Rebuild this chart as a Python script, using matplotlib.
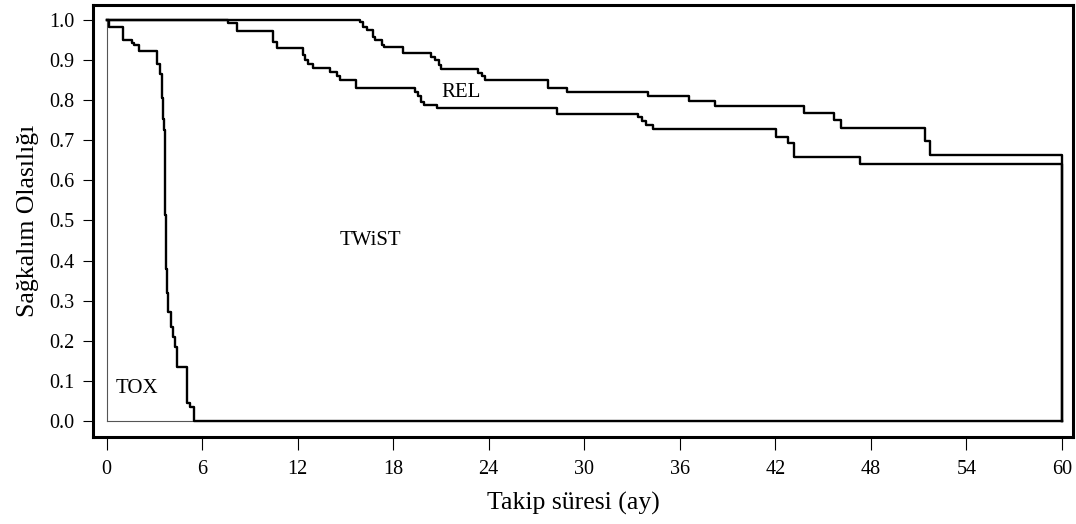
import matplotlib
matplotlib.use("Agg")
import matplotlib.pyplot as plt

plt.rcParams['font.family'] = ['Liberation Serif', 'DejaVu Serif']

# Kaplan-Meier step curves (months, survival probability)
tox_t = [0, 0.17, 1.05, 1.58, 1.74, 2.06, 3.2, 3.35, 3.5, 3.57, 3.62, 3.67,
         3.74, 3.78, 3.88, 4.03, 4.2, 4.3, 4.41, 5.04, 5.25, 5.5, 60]
tox_s = [1.0, 0.982, 0.950, 0.943, 0.937, 0.922, 0.89, 0.866, 0.804, 0.754,
         0.726, 0.514, 0.38, 0.32, 0.272, 0.235, 0.21, 0.185, 0.135, 0.045,
         0.035, 0.0, 0.0]

pfs_t = [0, 7.65, 8.2, 10.47, 10.7, 12.36, 12.46, 12.67, 12.99, 14.03, 14.5,
         14.65, 15.65, 19.37, 19.58, 19.75, 19.95, 20.75, 28.27, 33.4, 33.6,
         33.9, 34.3, 42.05, 42.8, 43.2, 47.3, 60]
pfs_s = [1.0, 0.993, 0.971, 0.945, 0.930, 0.912, 0.900, 0.889, 0.879, 0.870,
         0.859, 0.850, 0.830, 0.821, 0.809, 0.794, 0.788, 0.780, 0.766, 0.757,
         0.748, 0.738, 0.727, 0.708, 0.692, 0.658, 0.640, 0.0]

os_t = [0, 15.92, 16.13, 16.34, 16.75, 16.86, 17.28, 17.45, 18.64, 20.4,
        20.63, 20.85, 20.98, 23.35, 23.55, 23.77, 27.74, 28.9, 34.0, 36.6,
        38.2, 43.8, 45.7, 46.1, 51.4, 51.7, 60]
os_s = [1.0, 0.995, 0.983, 0.974, 0.958, 0.950, 0.937, 0.933, 0.918, 0.908,
        0.900, 0.888, 0.877, 0.867, 0.859, 0.850, 0.830, 0.821, 0.809, 0.797,
        0.785, 0.768, 0.751, 0.731, 0.697, 0.663, 0.0]

region_labels = ["TOX", "TWiST", "REL"]
label_pos = [(1.92, 0.082), (16.55, 0.451), (22.26, 0.818)]

xticks = list(range(0, 61, 6))
yticks = [i / 10 for i in range(11)]

fig = plt.figure(figsize=(10.76, 5.24), dpi=100)
ax = fig.add_axes([0.0864, 0.166, 0.9108, 0.8245])

# thin outline of the area under the curves
ax.plot([0, 0], [0, 1], color="#555555", lw=0.8)
ax.plot([0, 60], [0, 0], color="#555555", lw=0.8)

for t, s in [(tox_t, tox_s), (pfs_t, pfs_s), (os_t, os_s)]:
    ax.step(t, s, where="post", color="black", lw=1.7)

for name, (x, y) in zip(region_labels, label_pos):
    ax.text(x, y, name, fontsize=15, ha="center", va="center")

ax.set_xlim(-0.85, 60.69)
ax.set_ylim(-0.04, 1.037)
ax.set_xticks(xticks)
ax.set_yticks(yticks)
ax.set_yticklabels(["%.1f" % v for v in yticks])

for sp in ax.spines.values():
    sp.set_linewidth(2.2)
ax.tick_params(axis="x", length=9.5, width=0.8, labelsize=14.5, pad=7)
ax.tick_params(axis="y", length=7.5, width=0.8, labelsize=14.5, pad=6)

ax.set_xlabel("Takip süresi (ay)", fontsize=18.5)
ax.xaxis.set_label_coords(0.49, -0.128)
ax.set_ylabel("Sağkalım Olasılığı", fontsize=18.5, labelpad=7)

fig.savefig("out.png", dpi=100)
